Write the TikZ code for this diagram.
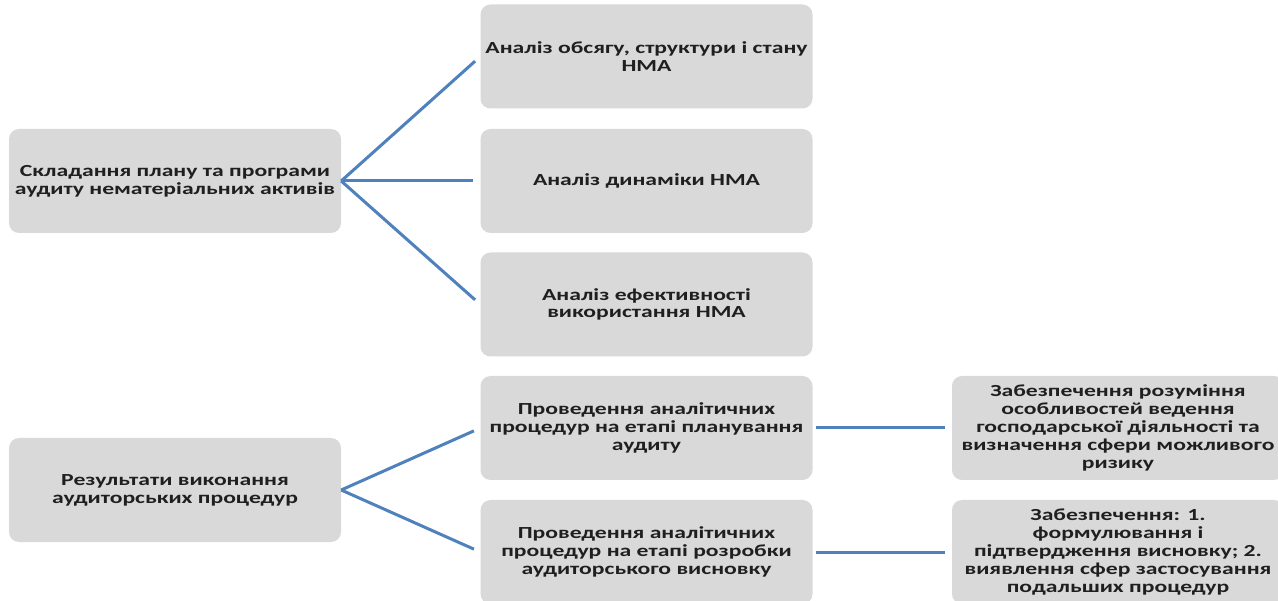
\documentclass[tikz,border=0pt]{standalone}
\usepackage{fontspec}
\newfontfamily\boxfont[FakeStretch=1.4]{Carlito}
\definecolor{boxgray}{HTML}{D9D9D9}
\definecolor{linkblue}{HTML}{4F81BD}
\definecolor{txt}{HTML}{1F1F1F}
\begin{document}
\begin{tikzpicture}[x=1pt,y=-1pt,
  box/.style={draw=none, fill=boxgray, rounded corners=10pt, minimum width=332pt, minimum height=104pt,
    inner sep=0pt, align=center, text=txt,
    font=\boxfont\bfseries\fontsize{16.9}{17.8}\selectfont},
  link/.style={draw=linkblue, line width=3pt, shorten >=7pt}]
\useasboundingbox (0,0) rectangle (1278,601);
\clip (0,0) rectangle (1278,601);
\fill[white] (0,0) rectangle (1278,601);
\node[box] (a) at (175,181) {Складання плану та програми\\аудиту нематеріальних активів};
\node[box] (b) at (175,490) {Результати виконання\\аудиторських процедур};
\node[box] (m1) at (646.5,56.5) {Аналіз обсягу, структури і стану\\НМА};
\node[box] (m2) at (646.5,181) {Аналіз динаміки НМА};
\node[box] (m3) at (646.5,304.5) {Аналіз ефективності\\використання НМА};
\node[box] (m4) at (646.5,428) {Проведення аналітичних\\процедур на етапі планування\\аудиту};
\node[box] (m5) at (646.5,552) {Проведення аналітичних\\процедур на етапі розробки\\аудиторського висновку};
\node[box] (r1) at (1118,428) {Забезпечення розуміння\\особливостей ведення\\господарської діяльності та\\визначення сфери можливого\\ризику};
\node[box] (r2) at (1118,552) {Забезпечення: 1.\\формулювання і\\підтвердження висновку; 2.\\виявлення сфер застосування\\подальших процедур};
\draw[link] (a.east) -- (m1.west);
\draw[link] (a.east) -- (m2.west);
\draw[link] (a.east) -- (m3.west);
\draw[link] (b.east) -- (m4.west);
\draw[link] (b.east) -- (m5.west);
\draw[link, shorten <=3pt] (m4.east) -- (r1.west);
\draw[link, shorten <=3pt] (m5.east) -- (r2.west);
\end{tikzpicture}
\end{document}
